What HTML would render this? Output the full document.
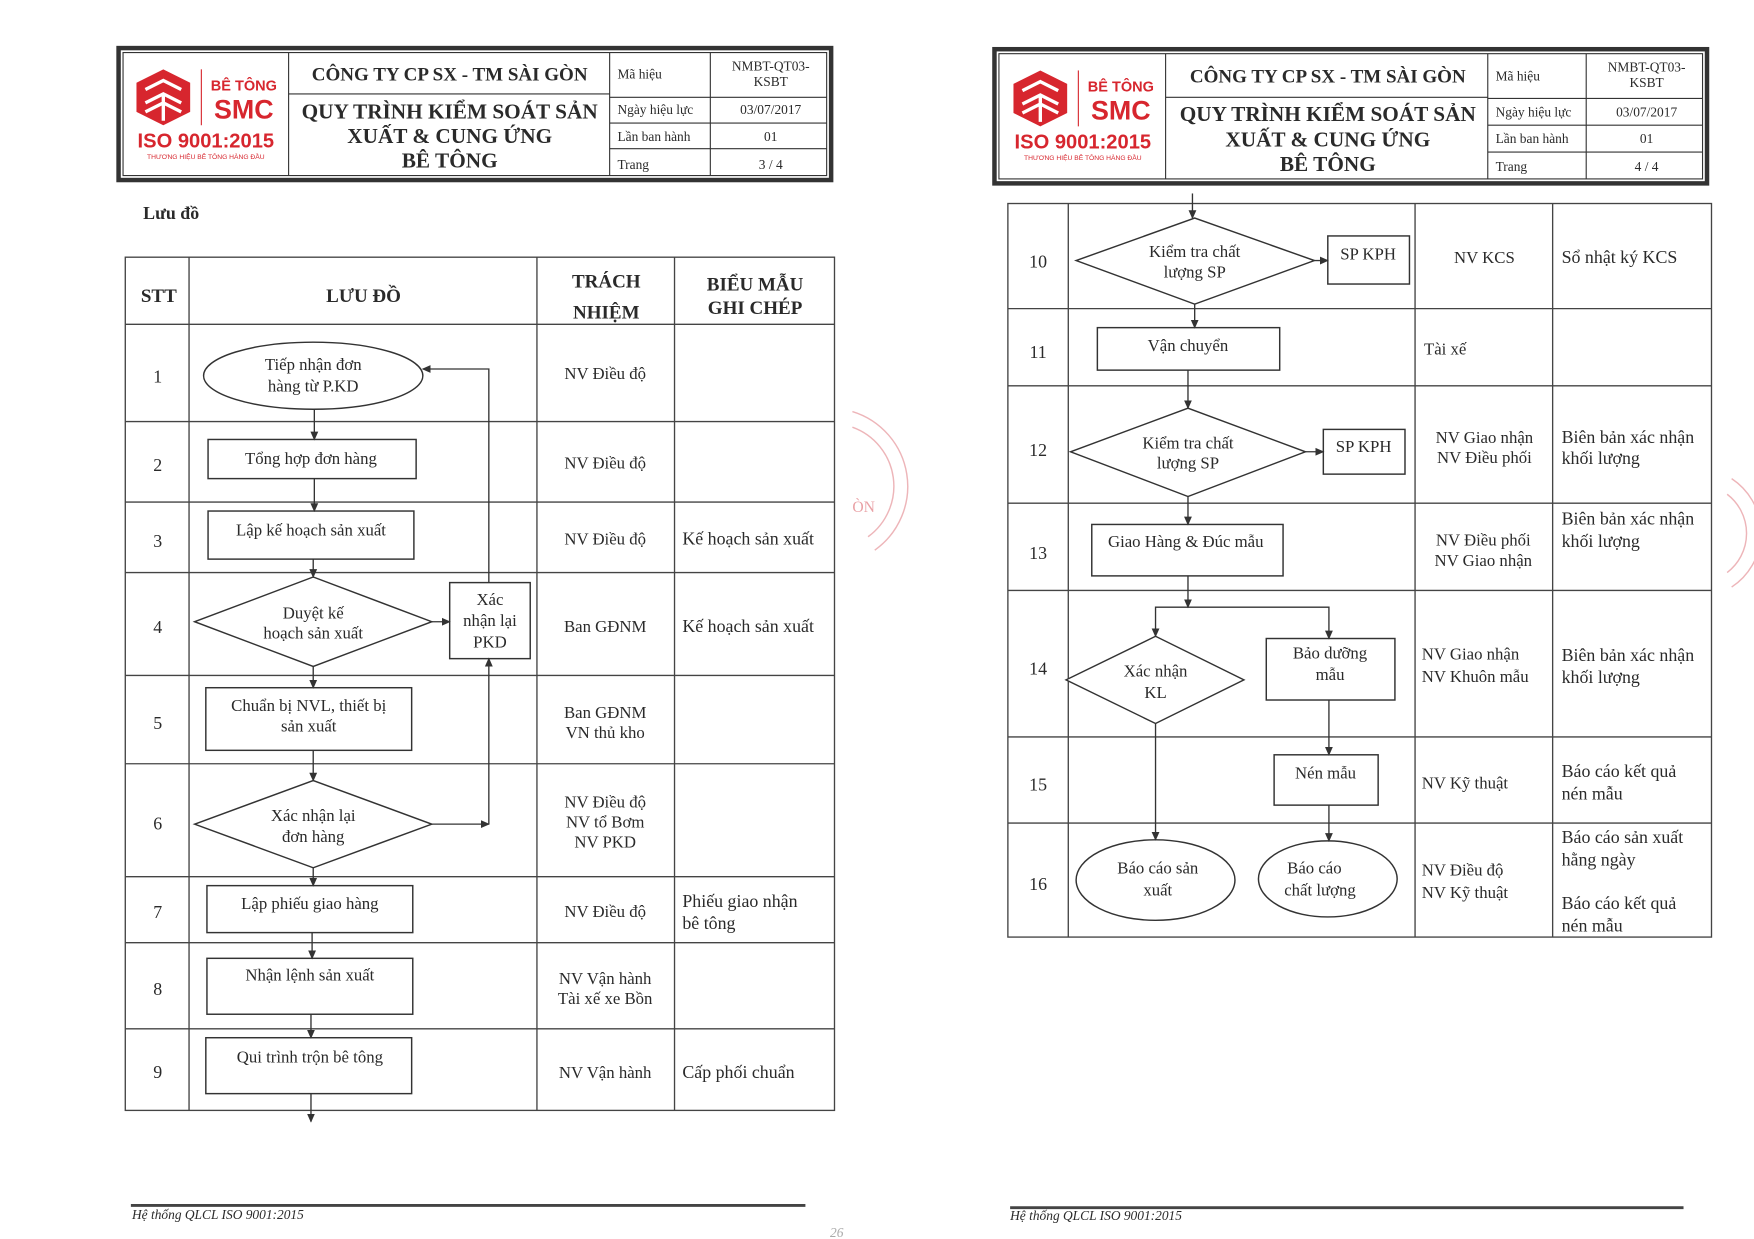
<!DOCTYPE html>
<html><head><meta charset="utf-8">
<style>
html,body{margin:0;padding:0;background:#fff;}
svg{display:block;}
text{font-family:"Liberation Serif","DejaVu Serif",serif;fill:#2a2a2a;}
.s{font-family:"Liberation Sans","DejaVu Sans",sans-serif;}
</style></head>
<body>
<svg width="1754" height="1239" viewBox="0 0 1568 1108" preserveAspectRatio="none" xmlns="http://www.w3.org/2000/svg">
<defs>
<marker id="a" markerWidth="8" markerHeight="8" refX="7" refY="4" orient="auto" markerUnits="userSpaceOnUse">
<path d="M0,0.5 L8,4 L0,7.5 Z" fill="#333"/>
</marker>
</defs>
<rect width="1568" height="1108" fill="#fff"/>

<!-- ===== LEFT HEADER ===== -->
<g stroke="#333" fill="none">
<rect x="106" y="43" width="637" height="118" stroke-width="4"/>
<rect x="110" y="47" width="629" height="110" stroke-width="1"/>
<line x1="258" y1="47" x2="258" y2="157"/>
<line x1="545" y1="47" x2="545" y2="157"/>
<line x1="635" y1="47" x2="635" y2="157"/>
<line x1="258" y1="84" x2="545" y2="84"/>
<line x1="545" y1="87" x2="739" y2="87"/>
<line x1="545" y1="110" x2="739" y2="110"/>
<line x1="545" y1="133" x2="739" y2="133"/>
</g>
<g>
<path d="M122,74 L146,62 L170,74 L170,100 L146,112 L122,100 Z" fill="#d7262e"/>
<path d="M130,80 L146,72 L162,80 M130,92 L146,84 L162,92 M146,84 L146,108 M130,100 L146,92 L162,100" stroke="#fff" stroke-width="3" fill="none"/>
<line x1="180" y1="62" x2="180" y2="112" stroke="#d7262e" stroke-width="1"/>
<text class="s" x="218" y="81" font-size="13" text-anchor="middle" style="fill:#d7262e" font-weight="bold">BÊ TÔNG</text>
<text class="s" x="218" y="106" font-size="24" text-anchor="middle" style="fill:#d7262e" font-weight="bold">SMC</text>
<text class="s" x="184" y="132" font-size="18" text-anchor="middle" style="fill:#d7262e" font-weight="bold">ISO 9001:2015</text>
<text class="s" x="184" y="142" font-size="6" text-anchor="middle" style="fill:#d7262e">THƯƠNG HIỆU BÊ TÔNG HÀNG ĐẦU</text>
</g>
<text x="402" y="72" font-size="17" font-weight="bold" text-anchor="middle">CÔNG TY CP SX - TM  SÀI GÒN</text>
<text x="402" y="106" font-size="19" font-weight="bold" text-anchor="middle">QUY TRÌNH KIỂM SOÁT SẢN</text>
<text x="402" y="128" font-size="19" font-weight="bold" text-anchor="middle">XUẤT &amp; CUNG ỨNG</text>
<text x="402" y="150" font-size="19" font-weight="bold" text-anchor="middle">BÊ TÔNG</text>
<g font-size="12">
<text x="552" y="70">Mã hiệu</text>
<text x="552" y="102">Ngày hiệu lực</text>
<text x="552" y="126">Lần ban hành</text>
<text x="552" y="151">Trang</text>
<text x="689" y="63" text-anchor="middle">NMBT-QT03-</text>
<text x="689" y="77" text-anchor="middle">KSBT</text>
<text x="689" y="102" text-anchor="middle">03/07/2017</text>
<text x="689" y="126" text-anchor="middle">01</text>
<text x="689" y="151" text-anchor="middle">3 / 4</text>
</g>
<text x="128" y="196" font-size="16" font-weight="bold">Lưu đồ</text>

<!-- ===== LEFT TABLE ===== -->
<g stroke="#444" fill="none" stroke-width="1.2">
<rect x="112" y="230" width="634" height="763"/>
<line x1="169" y1="230" x2="169" y2="993"/>
<line x1="480" y1="230" x2="480" y2="993"/>
<line x1="603" y1="230" x2="603" y2="993"/>
<line x1="112" y1="290" x2="746" y2="290"/>
<line x1="112" y1="377" x2="746" y2="377"/>
<line x1="112" y1="449" x2="746" y2="449"/>
<line x1="112" y1="512" x2="746" y2="512"/>
<line x1="112" y1="604" x2="746" y2="604"/>
<line x1="112" y1="683" x2="746" y2="683"/>
<line x1="112" y1="784" x2="746" y2="784"/>
<line x1="112" y1="843" x2="746" y2="843"/>
<line x1="112" y1="920" x2="746" y2="920"/>
</g>
<g font-weight="bold" font-size="17" text-anchor="middle">
<text x="142" y="270">STT</text>
<text x="325" y="270">LƯU ĐỒ</text>
<text x="542" y="257">TRÁCH</text>
<text x="542" y="285">NHIỆM</text>
<text x="675" y="260">BIỂU MẪU</text>
<text x="675" y="281">GHI CHÉP</text>
</g>
<g font-size="16" text-anchor="middle">
<text x="141" y="342">1</text><text x="141" y="421">2</text><text x="141" y="489">3</text>
<text x="141" y="566">4</text><text x="141" y="652">5</text><text x="141" y="742">6</text>
<text x="141" y="821">7</text><text x="141" y="890">8</text><text x="141" y="964">9</text>
</g>
<g font-size="15" text-anchor="middle">
<text x="541" y="339">NV Điều độ</text>
<text x="541" y="419">NV Điều độ</text>
<text x="541" y="487">NV Điều độ</text>
<text x="541" y="565">Ban GĐNM</text>
<text x="541" y="642">Ban GĐNM</text><text x="541" y="660">VN thủ kho</text>
<text x="541" y="722">NV Điều độ</text><text x="541" y="740">NV tổ Bơm</text><text x="541" y="758">NV PKD</text>
<text x="541" y="820">NV Điều độ</text>
<text x="541" y="880">NV Vận hành</text><text x="541" y="898">Tài xế xe Bồn</text>
<text x="541" y="964">NV Vận hành</text>
</g>
<g font-size="16">
<text x="610" y="487">Kế hoạch sản xuất</text>
<text x="610" y="565">Kế hoạch sản xuất</text>
<text x="610" y="811">Phiếu giao nhận</text><text x="610" y="831">bê tông</text>
<text x="610" y="964">Cấp phối chuẩn</text>
</g>

<!-- left flow shapes -->
<g stroke="#333" fill="#fff" stroke-width="1.3">
<ellipse cx="280" cy="336" rx="98" ry="30"/>
<rect x="186" y="393" width="186" height="35"/>
<rect x="186" y="457" width="184" height="43"/>
<polygon points="174,556 280,516 386,556 280,596"/>
<rect x="402" y="521" width="72" height="68"/>
<rect x="184" y="615" width="184" height="56"/>
<polygon points="174,737 280,698 386,737 280,776"/>
<rect x="185" y="792" width="184" height="42"/>
<rect x="185" y="857" width="184" height="50"/>
<rect x="184" y="928" width="184" height="50"/>
</g>
<g stroke="#333" fill="none" stroke-width="1.2" marker-end="url(#a)">
<line x1="281" y1="366" x2="281" y2="393"/>
<line x1="281" y1="428" x2="281" y2="457"/>
<line x1="280" y1="500" x2="280" y2="516"/>
<line x1="280" y1="596" x2="280" y2="615"/>
<line x1="280" y1="671" x2="280" y2="698"/>
<line x1="280" y1="776" x2="280" y2="792"/>
<line x1="279" y1="834" x2="279" y2="857"/>
<line x1="278" y1="907" x2="278" y2="928"/>
<line x1="278" y1="978" x2="278" y2="1003"/>
<line x1="386" y1="556" x2="402" y2="556"/>
<polyline points="437,521 437,330 378,330"/>
<polyline points="386,737 437,737"/>
<line x1="437" y1="737" x2="437" y2="589"/>
</g>
<g font-size="15" text-anchor="middle">
<text x="280" y="331">Tiếp nhận đơn</text><text x="280" y="350">hàng từ P.KD</text>
<text x="278" y="415">Tổng hợp đơn hàng</text>
<text x="278" y="479">Lập kế hoạch sản xuất</text>
<text x="280" y="553">Duyệt kế</text><text x="280" y="571">hoạch sản xuất</text>
<text x="438" y="541">Xác</text><text x="438" y="560">nhận lại</text><text x="438" y="579">PKD</text>
<text x="276" y="636">Chuẩn bị NVL, thiết bị</text><text x="276" y="654">sản xuất</text>
<text x="280" y="734">Xác nhận lại</text><text x="280" y="753">đơn hàng</text>
<text x="277" y="813">Lập phiếu giao hàng</text>
<text x="277" y="877">Nhận lệnh sản xuất</text>
<text x="277" y="950">Qui trình trộn bê tông</text>
</g>

<!-- left footer -->
<line x1="117" y1="1078" x2="720" y2="1078" stroke="#444" stroke-width="2.5"/>
<text x="118" y="1090" font-size="12" font-style="italic">Hệ thống QLCL ISO 9001:2015</text>
<text x="742" y="1106" font-size="12" font-style="italic" style="fill:#aaa">26</text>

<!-- red stamp left -->
<g stroke="#e07a80" fill="none" stroke-width="1.3" opacity="0.55">
<path d="M762,368 A70,70 0 0 1 782,492"/>
<path d="M762,382 A56,56 0 0 1 776,480"/>
</g>
<text x="762" y="458" font-size="14" style="fill:#e07a80" opacity="0.7">ÒN</text>

<!-- ===== RIGHT HEADER ===== -->
<g stroke="#333" fill="none">
<rect x="889" y="44" width="637" height="120" stroke-width="4"/>
<rect x="893" y="48" width="629" height="112" stroke-width="1"/>
<line x1="1042" y1="48" x2="1042" y2="160"/>
<line x1="1330" y1="48" x2="1330" y2="160"/>
<line x1="1418" y1="48" x2="1418" y2="160"/>
<line x1="1042" y1="87" x2="1330" y2="87"/>
<line x1="1330" y1="88" x2="1522" y2="88"/>
<line x1="1330" y1="112" x2="1522" y2="112"/>
<line x1="1330" y1="136" x2="1522" y2="136"/>
</g>
<g>
<path d="M906,75 L930,63 L954,75 L954,101 L930,113 L906,101 Z" fill="#d7262e"/>
<path d="M914,81 L930,73 L946,81 M914,93 L930,85 L946,93 M930,85 L930,109 M914,101 L930,93 L946,101" stroke="#fff" stroke-width="3" fill="none"/>
<line x1="964" y1="63" x2="964" y2="113" stroke="#d7262e" stroke-width="1"/>
<text class="s" x="1002" y="82" font-size="13" text-anchor="middle" style="fill:#d7262e" font-weight="bold">BÊ TÔNG</text>
<text class="s" x="1002" y="107" font-size="24" text-anchor="middle" style="fill:#d7262e" font-weight="bold">SMC</text>
<text class="s" x="968" y="133" font-size="18" text-anchor="middle" style="fill:#d7262e" font-weight="bold">ISO 9001:2015</text>
<text class="s" x="968" y="143" font-size="6" text-anchor="middle" style="fill:#d7262e">THƯƠNG HIỆU BÊ TÔNG HÀNG ĐẦU</text>
</g>
<text x="1187" y="74" font-size="17" font-weight="bold" text-anchor="middle">CÔNG TY CP SX - TM  SÀI GÒN</text>
<text x="1187" y="108" font-size="19" font-weight="bold" text-anchor="middle">QUY TRÌNH KIỂM SOÁT SẢN</text>
<text x="1187" y="131" font-size="19" font-weight="bold" text-anchor="middle">XUẤT &amp; CUNG ỨNG</text>
<text x="1187" y="153" font-size="19" font-weight="bold" text-anchor="middle">BÊ TÔNG</text>
<g font-size="12">
<text x="1337" y="72">Mã hiệu</text>
<text x="1337" y="104">Ngày hiệu lực</text>
<text x="1337" y="128">Lần ban hành</text>
<text x="1337" y="153">Trang</text>
<text x="1472" y="64" text-anchor="middle">NMBT-QT03-</text>
<text x="1472" y="78" text-anchor="middle">KSBT</text>
<text x="1472" y="104" text-anchor="middle">03/07/2017</text>
<text x="1472" y="128" text-anchor="middle">01</text>
<text x="1472" y="153" text-anchor="middle">4 / 4</text>
</g>

<!-- ===== RIGHT TABLE ===== -->
<g stroke="#444" fill="none" stroke-width="1.2">
<rect x="901" y="182" width="629" height="656"/>
<line x1="955" y1="182" x2="955" y2="838"/>
<line x1="1265" y1="182" x2="1265" y2="838"/>
<line x1="1388" y1="182" x2="1388" y2="838"/>
<line x1="901" y1="276" x2="1530" y2="276"/>
<line x1="901" y1="345" x2="1530" y2="345"/>
<line x1="901" y1="450" x2="1530" y2="450"/>
<line x1="901" y1="528" x2="1530" y2="528"/>
<line x1="901" y1="659" x2="1530" y2="659"/>
<line x1="901" y1="736" x2="1530" y2="736"/>
</g>
<g font-size="16" text-anchor="middle">
<text x="928" y="239">10</text><text x="928" y="320">11</text><text x="928" y="408">12</text>
<text x="928" y="500">13</text><text x="928" y="603">14</text><text x="928" y="707">15</text>
<text x="928" y="796">16</text>
</g>
<g font-size="15">
<text x="1327" y="235" text-anchor="middle">NV KCS</text>
<text x="1273" y="317">Tài xế</text>
<text x="1327" y="396" text-anchor="middle">NV Giao nhận</text><text x="1327" y="414" text-anchor="middle">NV Điều phối</text>
<text x="1326" y="488" text-anchor="middle">NV Điều phối</text><text x="1326" y="506" text-anchor="middle">NV Giao nhận</text>
<text x="1271" y="590">NV Giao nhận</text><text x="1271" y="610">NV Khuôn mẫu</text>
<text x="1271" y="705">NV Kỹ thuật</text>
<text x="1271" y="783">NV Điều độ</text><text x="1271" y="803">NV Kỹ thuật</text>
</g>
<g font-size="16">
<text x="1396" y="235">Sổ nhật ký KCS</text>
<text x="1396" y="396">Biên bản xác nhận</text><text x="1396" y="415">khối lượng</text>
<text x="1396" y="469">Biên bản xác nhận</text><text x="1396" y="489">khối lượng</text>
<text x="1396" y="591">Biên bản xác nhận</text><text x="1396" y="611">khối lượng</text>
<text x="1396" y="695">Báo cáo kết quả</text><text x="1396" y="715">nén mẫu</text>
<text x="1396" y="754">Báo cáo sản xuất</text><text x="1396" y="774">hằng ngày</text>
<text x="1396" y="813">Báo cáo kết quả</text><text x="1396" y="833">nén mẫu</text>
</g>

<!-- right flow shapes -->
<g stroke="#333" fill="#fff" stroke-width="1.3">
<polygon points="962,233 1068,195 1175,233 1068,272"/>
<rect x="1187" y="211" width="73" height="43"/>
<rect x="981" y="293" width="163" height="38"/>
<polygon points="957,404 1062,365 1167,404 1062,444"/>
<rect x="1183" y="384" width="73" height="40"/>
<rect x="976" y="469" width="171" height="46"/>
<polygon points="953,608 1033,569 1112,608 1033,647"/>
<rect x="1132" y="571" width="115" height="55"/>
<rect x="1139" y="675" width="93" height="45"/>
<ellipse cx="1033" cy="787" rx="71" ry="36"/>
<ellipse cx="1187" cy="786" rx="62" ry="34"/>
</g>
<g stroke="#333" fill="none" stroke-width="1.2" marker-end="url(#a)">
<line x1="1066" y1="173" x2="1066" y2="195"/>
<line x1="1175" y1="233" x2="1187" y2="233"/>
<line x1="1068" y1="272" x2="1068" y2="293"/>
<line x1="1062" y1="331" x2="1062" y2="365"/>
<line x1="1167" y1="404" x2="1183" y2="404"/>
<line x1="1062" y1="444" x2="1062" y2="469"/>
<line x1="1062" y1="515" x2="1062" y2="543"/>
<polyline points="1062,543 1033,543 1033,569"/>
<polyline points="1062,543 1188,543 1188,571"/>
<line x1="1188" y1="626" x2="1188" y2="675"/>
<line x1="1188" y1="720" x2="1188" y2="752"/>
<line x1="1033" y1="647" x2="1033" y2="751"/>
</g>
<g font-size="15" text-anchor="middle">
<text x="1068" y="230">Kiểm tra chất</text><text x="1068" y="248">lượng SP</text>
<text x="1223" y="232">SP KPH</text>
<text x="1062" y="314">Vận chuyển</text>
<text x="1062" y="401">Kiểm tra chất</text><text x="1062" y="419">lượng SP</text>
<text x="1219" y="404">SP KPH</text>
<text x="1060" y="489">Giao Hàng &amp; Đúc mẫu</text>
<text x="1033" y="605">Xác nhận</text><text x="1033" y="624">KL</text>
<text x="1189" y="589">Bảo dưỡng</text><text x="1189" y="608">mẫu</text>
<text x="1185" y="696">Nén mẫu</text>
<text x="1035" y="781">Báo cáo sản</text><text x="1035" y="801">xuất</text>
<text x="1175" y="781">Báo cáo</text><text x="1180" y="801">chất lượng</text>
</g>

<!-- right footer -->
<line x1="903" y1="1080" x2="1505" y2="1080" stroke="#444" stroke-width="2.5"/>
<text x="903" y="1091" font-size="12" font-style="italic">Hệ thống QLCL ISO 9001:2015</text>

<!-- red stamp right -->
<g stroke="#e07a80" fill="none" stroke-width="1.3" opacity="0.55">
<path d="M1548,428 A58,58 0 0 1 1548,525"/>
<path d="M1544,442 A44,44 0 0 1 1544,512"/>
</g>
</svg>
</body></html>
